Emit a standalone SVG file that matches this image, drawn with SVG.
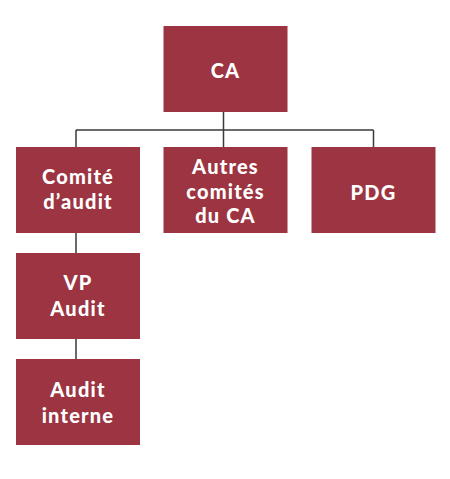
<svg xmlns="http://www.w3.org/2000/svg" width="450" height="479" viewBox="0 0 450 479">
<style>
.box{fill:#9c3441}
.t{font-family:Lato,"Open Sans","Liberation Sans",sans-serif;font-weight:900;font-size:20px;letter-spacing:1.2px;fill:#fff;text-anchor:middle}
.ln{stroke:#3a3a3a;stroke-width:1.5;fill:none}
</style>
<rect width="450" height="479" fill="#fff"/>
<g id="connectors">
<path class="ln" d="M223.5 112V130M76 130H373.5M76 130V147M223.5 130V147M373.5 130V147M76 233V253M76 339V359"/>
</g>
<g id="ca"><rect class="box" x="163.5" y="26" width="124" height="86"/><text class="t" x="225.5" y="78">CA</text></g>
<g id="comite"><rect class="box" x="16" y="147" width="124" height="86"/><text class="t" x="78" y="184">Comité</text><text class="t" x="78" y="209">d’audit</text></g>
<g id="autres"><rect class="box" x="163.5" y="147" width="124" height="86"/><text class="t" x="225.5" y="174">Autres</text><text class="t" x="225.5" y="198.5">comités</text><text class="t" x="225.5" y="223">du CA</text></g>
<g id="pdg"><rect class="box" x="311.5" y="147" width="124" height="86"/><text class="t" x="373.5" y="200">PDG</text></g>
<g id="vp"><rect class="box" x="16" y="253" width="124" height="86"/><text class="t" x="78" y="290">VP</text><text class="t" x="78" y="316">Audit</text></g>
<g id="interne"><rect class="box" x="16" y="359" width="124" height="86"/><text class="t" x="78" y="397">Audit</text><text class="t" x="78" y="423">interne</text></g>
</svg>
